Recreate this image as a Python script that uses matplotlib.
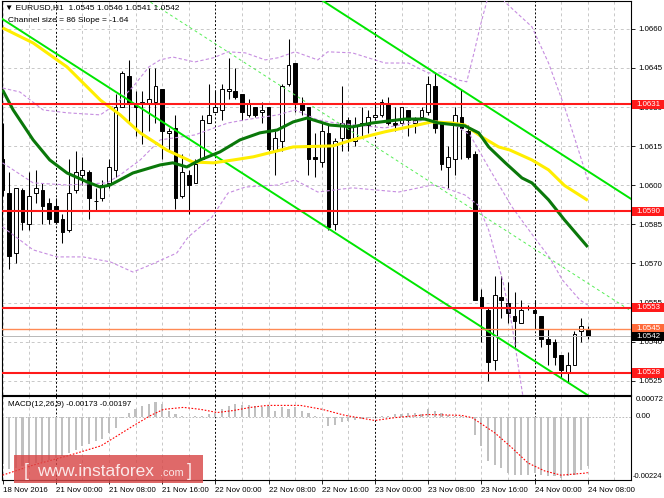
import numpy as np
import matplotlib.pyplot as plt
from matplotlib.patches import Rectangle
from matplotlib.transforms import blended_transform_factory

plt.rcParams['font.family'] = ['Liberation Sans', 'DejaVu Sans']

# EURUSD H1 candles, 18 Nov 16:00 .. 24 Nov 08:00
opens = [1.0610, 1.0597, 1.0574, 1.0598, 1.0585, 1.0597, 1.0598, 1.0593, 1.0592, 1.0587,
         1.0583, 1.0598, 1.0604, 1.0605, 1.0594, 1.0595, 1.0601, 1.0606, 1.0630, 1.0642,
         1.0631, 1.0631, 1.0631, 1.0632, 1.0637, 1.0620, 1.0622, 1.0596, 1.0604, 1.0601,
         1.0610, 1.0624, 1.0628, 1.0629, 1.0636, 1.0636, 1.0635, 1.0627, 1.0630, 1.0628,
         1.0630, 1.0613, 1.0617, 1.0639, 1.0647, 1.0631, 1.0630, 1.0611, 1.0609, 1.0620,
         1.0585, 1.0618, 1.0625, 1.0617, 1.0624, 1.0623, 1.0626, 1.0627, 1.0631, 1.0624,
         1.0624, 1.0629, 1.0624, 1.0626, 1.0628, 1.0638, 1.0624, 1.0607, 1.0610, 1.0626,
         1.0621, 1.0612, 1.0557, 1.0552, 1.0533, 1.0557, 1.0555, 1.0550, 1.0547, 1.0553,
         1.0552, 1.0550, 1.0541, 1.0540, 1.0535, 1.0528, 1.0531, 1.0544, 1.0545]
highs = [1.0624, 1.0605, 1.0599, 1.0599, 1.0605, 1.0606, 1.0601, 1.0595, 1.0595, 1.0589,
         1.0610, 1.0613, 1.0611, 1.0606, 1.0599, 1.0602, 1.0610, 1.0635, 1.0644, 1.0648,
         1.0636, 1.0636, 1.0645, 1.0645, 1.0637, 1.0622, 1.0627, 1.0612, 1.0606, 1.0610,
         1.0627, 1.0639, 1.0636, 1.0639, 1.0649, 1.0645, 1.0635, 1.0633, 1.0630, 1.0632,
         1.0630, 1.0621, 1.0639, 1.0656, 1.0647, 1.0634, 1.0630, 1.0620, 1.0624, 1.0623,
         1.0618, 1.0638, 1.0626, 1.0626, 1.0630, 1.0629, 1.0632, 1.0633, 1.0634, 1.0630,
         1.0630, 1.0629, 1.0626, 1.0630, 1.0642, 1.0643, 1.0624, 1.0615, 1.0630, 1.0637,
         1.0623, 1.0613, 1.0560, 1.0553, 1.0565, 1.0565, 1.0563, 1.0559, 1.0556, 1.0554,
         1.0556, 1.0550, 1.0545, 1.0541, 1.0535, 1.0536, 1.0544, 1.0549, 1.0546]
lows = [1.0596, 1.0568, 1.0570, 1.0583, 1.0583, 1.0593, 1.0585, 1.0585, 1.0585, 1.0578,
        1.0582, 1.0597, 1.0600, 1.0587, 1.0590, 1.0594, 1.0599, 1.0603, 1.0630, 1.0624,
        1.0619, 1.0616, 1.0621, 1.0624, 1.0610, 1.0613, 1.0591, 1.0595, 1.0589, 1.0601,
        1.0610, 1.0624, 1.0628, 1.0625, 1.0633, 1.0633, 1.0625, 1.0626, 1.0626, 1.0624,
        1.0613, 1.0604, 1.0613, 1.0638, 1.0628, 1.0627, 1.0604, 1.0603, 1.0607, 1.0583,
        1.0583, 1.0613, 1.0613, 1.0615, 1.0618, 1.0620, 1.0625, 1.0626, 1.0623, 1.0621,
        1.0623, 1.0619, 1.0620, 1.0626, 1.0627, 1.0620, 1.0606, 1.0599, 1.0604, 1.0610,
        1.0610, 1.0556, 1.0540, 1.0525, 1.0529, 1.0549, 1.0547, 1.0537, 1.0547, 1.0552,
        1.0545, 1.0538, 1.0531, 1.0531, 1.0526, 1.0524, 1.0531, 1.0540, 1.0541]
closes = [1.0598, 1.0573, 1.0599, 1.0586, 1.0596, 1.0599, 1.0592, 1.0587, 1.0586, 1.0582,
          1.0597, 1.0605, 1.0606, 1.0595, 1.0594, 1.0600, 1.0607, 1.0630, 1.0643, 1.0631,
          1.0630, 1.0632, 1.0633, 1.0638, 1.0621, 1.0621, 1.0595, 1.0605, 1.0600, 1.0608,
          1.0625, 1.0627, 1.0630, 1.0637, 1.0637, 1.0634, 1.0628, 1.0631, 1.0627, 1.0629,
          1.0614, 1.0618, 1.0638, 1.0646, 1.0632, 1.0629, 1.0610, 1.0610, 1.0621, 1.0584,
          1.0617, 1.0624, 1.0618, 1.0623, 1.0623, 1.0626, 1.0627, 1.0632, 1.0624, 1.0623,
          1.0630, 1.0625, 1.0625, 1.0629, 1.0639, 1.0622, 1.0608, 1.0611, 1.0627, 1.0622,
          1.0611, 1.0556, 1.0553, 1.0532, 1.0558, 1.0556, 1.0551, 1.0548, 1.0552, 1.0553,
          1.0551, 1.0541, 1.0539, 1.0534, 1.0529, 1.0531, 1.0543, 1.0546, 1.0542]

time_ticks = [0, 8, 16, 24, 32, 40, 48, 56, 64, 72, 80, 88]
time_labels = ['18 Nov 2016', '21 Nov 00:00', '21 Nov 08:00', '21 Nov 16:00',
               '22 Nov 00:00', '22 Nov 08:00', '22 Nov 16:00', '23 Nov 00:00',
               '23 Nov 08:00', '23 Nov 16:00', '24 Nov 00:00', '24 Nov 08:00']
day_starts = [8, 32, 56, 80]

# moving averages
ma_y_x = [0, 4.6, 9.7, 14.7, 17.7, 20.7, 24.7, 28.6, 31.7, 34.7, 37.7, 40.7, 43.7, 49.7,
          52.6, 57.5, 62.4, 64.5, 67.6, 69.5, 72.1, 74.6, 76.3, 79.6, 82.1, 84.5, 88]
ma_y = [1.06604, 1.06546, 1.06454, 1.06327, 1.06270, 1.06201, 1.06135, 1.06089, 1.06086,
        1.06097, 1.06109, 1.06128, 1.06147, 1.06151, 1.06174, 1.06205, 1.06231, 1.06243,
        1.06239, 1.06231, 1.06185, 1.06147, 1.06135, 1.06097, 1.06059, 1.05999, 1.05942]
ma_g_x = [0, 1.6, 4.6, 7.1, 9.7, 12.7, 14.7, 16.2, 19.6, 23.7, 25.6, 27.7, 29.7, 32.7,
          35.7, 38.7, 41.3, 43.7, 45.8, 49.2, 52.6, 55.6, 60.5, 63.5, 65.5, 69.5, 71.6,
          73.1, 75.6, 78.1, 79.6, 82.1, 84.5, 88]
ma_g = [1.06366, 1.06289, 1.06174, 1.06097, 1.06047, 1.06013, 1.05993, 1.06001, 1.06047,
        1.06078, 1.06086, 1.06070, 1.06097, 1.06128, 1.06174, 1.06201, 1.06212, 1.06243,
        1.06258, 1.06231, 1.06224, 1.06239, 1.06254, 1.06254, 1.06239, 1.06228, 1.06201,
        1.06147, 1.06086, 1.06028, 1.06009, 1.05944, 1.05867, 1.05763]

# bollinger bands
bb_up_x = [0, 2.6, 6.1, 9.7, 14.7, 16.9, 19.6, 22, 23.7, 25.6, 28.9, 31.7, 33.9, 36.5,
           39.5, 41.4, 44, 47.4, 48.9, 52.6, 57.5, 61, 64, 66, 68.5, 69.8, 71, 71.8, 72.8,
           73.6, 74.8, 75.5, 79.6, 82.1, 84.5, 86.6, 88]
bb_up = [1.06373, 1.06358, 1.06289, 1.06278, 1.06270, 1.06308, 1.06377, 1.06454, 1.06481,
         1.06492, 1.06473, 1.06489, 1.06512, 1.06508, 1.06481, 1.06489, 1.06512, 1.06481,
         1.06512, 1.06508, 1.06469, 1.06469, 1.06431, 1.06431, 1.06404, 1.06397, 1.06519,
         1.06608, 1.06704, 1.06769, 1.06769, 1.06704, 1.06608, 1.06469, 1.06301, 1.06135,
         1.06020]
bb_mid_x = [0, 4.6, 9.7, 15.7, 17.7, 20.7, 23.7, 28.9, 33.9, 36.5, 41.4, 44, 47.4, 50,
            57.5, 63.5, 67.6, 70.3, 73.3, 76.6, 79.7, 82.3, 84.2, 86.8, 88]
bb_mid = [1.06086, 1.06009, 1.06001, 1.06009, 1.06040, 1.06097, 1.06174, 1.06193, 1.06239,
          1.06251, 1.06270, 1.06289, 1.06251, 1.06239, 1.06220, 1.06251, 1.06239, 1.06193,
          1.06059, 1.05917, 1.05809, 1.05721, 1.05636, 1.05560, 1.05540]
bb_lo_x = [0, 4.6, 8.2, 12.1, 16.2, 19.6, 22.2, 26.2, 27.9, 31.5, 33.9, 36.5, 41.4, 44,
           47.4, 52.6, 59.6, 64.6, 66.5, 69.5, 71.5, 73.1, 75.2, 76.6, 78.1, 79.3]
bb_lo = [1.05840, 1.05752, 1.05725, 1.05725, 1.05706, 1.05667, 1.05694, 1.05740, 1.05801,
         1.05878, 1.05970, 1.05993, 1.06001, 1.06020, 1.05974, 1.05990, 1.05974, 1.06001,
         1.05990, 1.05963, 1.05924, 1.05828, 1.05636, 1.05464, 1.05214, 1.05022]

# regression channel: size 86, slope -1.64
chan_ref_bar = 49.6
chan_ref_price = 1.06254
chan_slope = -0.000164
chan_half = 0.0043

levels_red = [1.0631, 1.0590, 1.0553, 1.0528]
level_orange = 1.0545
level_bid = 1.0542

# MACD(12,26,9)
macd_hist = [-0.00167, -0.00185, -0.00180, -0.00175, -0.00170, -0.00164, -0.00158, -0.00152,
             -0.00146, -0.00138, -0.00128, -0.00116, -0.00104, -0.00098, -0.00086, -0.00080,
             -0.00057, -0.00039, -0.00004, 0.00014, 0.00026, 0.00038, 0.00044, 0.00050,
             0.00044, 0.00020, 0.00008, 0.00002, -0.00001, 0.00001, 0.00003, 0.00008,
             0.00014, 0.00028, 0.00038, 0.00044, 0.00040, 0.00042, 0.00038, 0.00032,
             0.00038, 0.00020, 0.00035, 0.00026, 0.00035, 0.00020, 0.00014, 0.00002,
             0.00000, -0.00033, -0.00031, -0.00021, -0.00015, -0.00012, -0.00009, -0.00007,
             -0.00002, 0.00002, 0.00003, 0.00008, 0.00008, 0.00012, 0.00014, 0.00008,
             0.00026, 0.00020, 0.00012, 0.00005, 0.00002, 0.00001, -0.00001, -0.00066,
             -0.00104, -0.00157, -0.00169, -0.00181, -0.00199, -0.00204, -0.00204, -0.00204,
             -0.00199, -0.00204, -0.00208, -0.00210, -0.00216, -0.00210, -0.00204, -0.00187,
             -0.00173]
sig_x = [0, 4.7, 9.8, 14.8, 17.3, 19.7, 22.3, 24.2, 27.2, 29.8, 32.3, 34.7, 37.3, 39.8,
         44.8, 48.1, 51.5, 56, 59, 64, 69, 70.6, 74, 76.6, 79, 81.5, 84, 87.5, 88]
sig = [-0.00206, -0.00170, -0.00138, -0.00103, -0.00067, -0.00032, 0.00004, 0.00025, 0.00032,
       0.00025, 0.00014, 0.00021, 0.00032, 0.00039, 0.00039, 0.00025, 0.00004, -0.00014,
       -0.00004, 0.00007, 0.00004, -0.00004, -0.00057, -0.00110, -0.00163, -0.00191,
       -0.00206, -0.00199, -0.00197]

W, H = 664, 498


def rect(l, t, r, b):
    return [l / W, 1 - b / H, (r - l) / W, (b - t) / H]


fig = plt.figure(figsize=(W / 100, H / 100), dpi=100)
ax = fig.add_axes(rect(2, 1, 631, 394.5))
axm = fig.add_axes(rect(2, 396, 631, 480.3), sharex=ax)

n = len(closes)
x = np.arange(n)
grid_c = '#c8c8c8'

for a in (ax, axm):
    for g in range(0, 96, 4):
        if g in day_starts:
            a.axvline(g, color='black', lw=0.7, ls=(0, (2, 2)), zorder=1)
        else:
            a.axvline(g, color=grid_c, lw=0.7, ls=(0, (3, 3)), zorder=0.5)
    for s in a.spines.values():
        s.set_color('black')
        s.set_linewidth(0.8)

# price grid + right axis
price_ticks = [1.0525 + 0.0015 * k for k in range(10)]
ax.set_yticks(price_ticks)
ax.set_yticklabels(['%.4f' % p for p in price_ticks])
ax.yaxis.tick_right()
ax.tick_params(axis='y', labelsize=5.7, length=3, width=0.6, pad=2)
ax.tick_params(axis='x', which='both', bottom=False, labelbottom=False)
ax.grid(axis='y', color=grid_c, lw=0.7, ls=(0, (3, 3)), zorder=0.5)
ax.set_xlim(-0.08, 94.5)
ax.set_ylim(1.05197, 1.06707)

# candles
o = np.array(opens)
c = np.array(closes)
ax.vlines(x, lows, highs, color='black', lw=0.75, zorder=2)
bull = c >= o
body_h = np.maximum(np.abs(c - o), 0.000012)
ax.bar(x, body_h, bottom=np.minimum(o, c), width=0.56,
       color=np.where(bull, 'white', 'black'), edgecolor='black', linewidth=0.7, zorder=3)

# bollinger
for bx, by in ((bb_up_x, bb_up), (bb_mid_x, bb_mid), (bb_lo_x, bb_lo)):
    ax.plot(bx, by, color='#c68de0', lw=0.8, ls=(0, (3, 2)), zorder=4)

# regression channel
cx = np.array([-1, 96])
cmid = chan_ref_price + chan_slope * (cx - chan_ref_bar)
ax.plot(cx, cmid + chan_half, color='#00e600', lw=1.4, zorder=4)
ax.plot(cx, cmid - chan_half, color='#00e600', lw=1.4, zorder=4)
ax.plot(cx, cmid, color='#55ee55', lw=0.7, ls=(0, (3, 3)), zorder=4)

# moving averages
ax.plot(ma_y_x, ma_y, color='#ffee00', lw=2.2, zorder=5, solid_capstyle='butt')
ax.plot(ma_g_x, ma_g, color='#0a780a', lw=2.2, zorder=5, solid_capstyle='butt')

# horizontal levels
for lv in levels_red:
    ax.axhline(lv, color='#ff1a1a', lw=1.5, zorder=6)
ax.axhline(level_orange, color='#ff8a55', lw=1.0, zorder=6)
ax.axhline(level_bid, color='#b8b8b8', lw=0.7, zorder=6)

# price boxes on the right scale
tr = blended_transform_factory(ax.transAxes, ax.transData)
box_w = 32 / 629
box_h = 9.5 * (1.06707 - 1.05197) / 393.5
tags = [(lv, '#ff1a1a') for lv in levels_red] + [(level_orange, '#ff6a3a'), (level_bid, 'black')]
for lv, col in tags:
    ax.add_patch(Rectangle((1 + 1 / 629, lv - box_h / 2), box_w, box_h, transform=tr,
                           facecolor=col, edgecolor='none', clip_on=False, zorder=10))
    ax.text(1 + 5 / 629, lv, '%.4f' % lv, transform=tr, color='white', fontsize=5.7,
            va='center', ha='left', zorder=11, clip_on=False)

# MACD panel
axm.bar(x, macd_hist, width=0.32, color='#c0c0c0', zorder=2)
axm.plot(sig_x, sig, color='red', lw=0.8, ls=(0, (1.5, 1.5)), zorder=3)
axm.axhline(0, color='#b0b0b0', lw=0.6, ls=(0, (2, 2)), zorder=1)
axm.set_ylim(-0.00224, 0.00072)
axm.set_yticks([])
trm = blended_transform_factory(axm.transAxes, axm.transData)
axm.text(1 + 5 / 629, 0.00072, '0.00072', transform=trm, fontsize=5.7, va='top', ha='left')
axm.text(1 + 5 / 629, 0.0, '0.00', transform=trm, fontsize=5.7, va='center', ha='left')
axm.text(1 + 2 / 629, -0.00224, '-0.00224', transform=trm, fontsize=5.4, va='bottom', ha='left')
axm.set_xticks(time_ticks)
axm.set_xticklabels(time_labels, ha='left', fontsize=5.7)
axm.tick_params(axis='x', length=3, width=0.6, pad=1.5)
axm.text(6 / 629, 0.9, 'MACD(12,26,9) -0.00173 -0.00197', transform=axm.transAxes,
         fontsize=5.8, va='center', ha='left')

# header
fig.text(5 / W, 1 - 8 / H, '\u25bc EURUSD,H1  1.0545 1.0546 1.0541 1.0542', fontsize=6,
         va='center', ha='left')
fig.text(8 / W, 1 - 20 / H, 'Channel size = 86 Slope = -1.64', fontsize=6,
         va='center', ha='left')

# watermark
fig.add_artist(Rectangle((14 / W, 1 - 483 / H), 189 / W, 28 / H, transform=fig.transFigure,
                         facecolor='#d84848', alpha=0.82, edgecolor='none', zorder=20))
wm_c = '#fbe8e8'
fig.text(24 / W, 1 - 476 / H, '[', fontsize=13, color=wm_c, va='baseline', zorder=21)
fig.text(37 / W, 1 - 476 / H, 'www.instaforex', fontsize=12.5, color=wm_c, va='baseline', zorder=21)
fig.text(160 / W, 1 - 476 / H, '.com', fontsize=7.8, color=wm_c, va='baseline', zorder=21)
fig.text(187 / W, 1 - 476 / H, ']', fontsize=13, color=wm_c, va='baseline', zorder=21)

fig.savefig('out.png', dpi=100)
